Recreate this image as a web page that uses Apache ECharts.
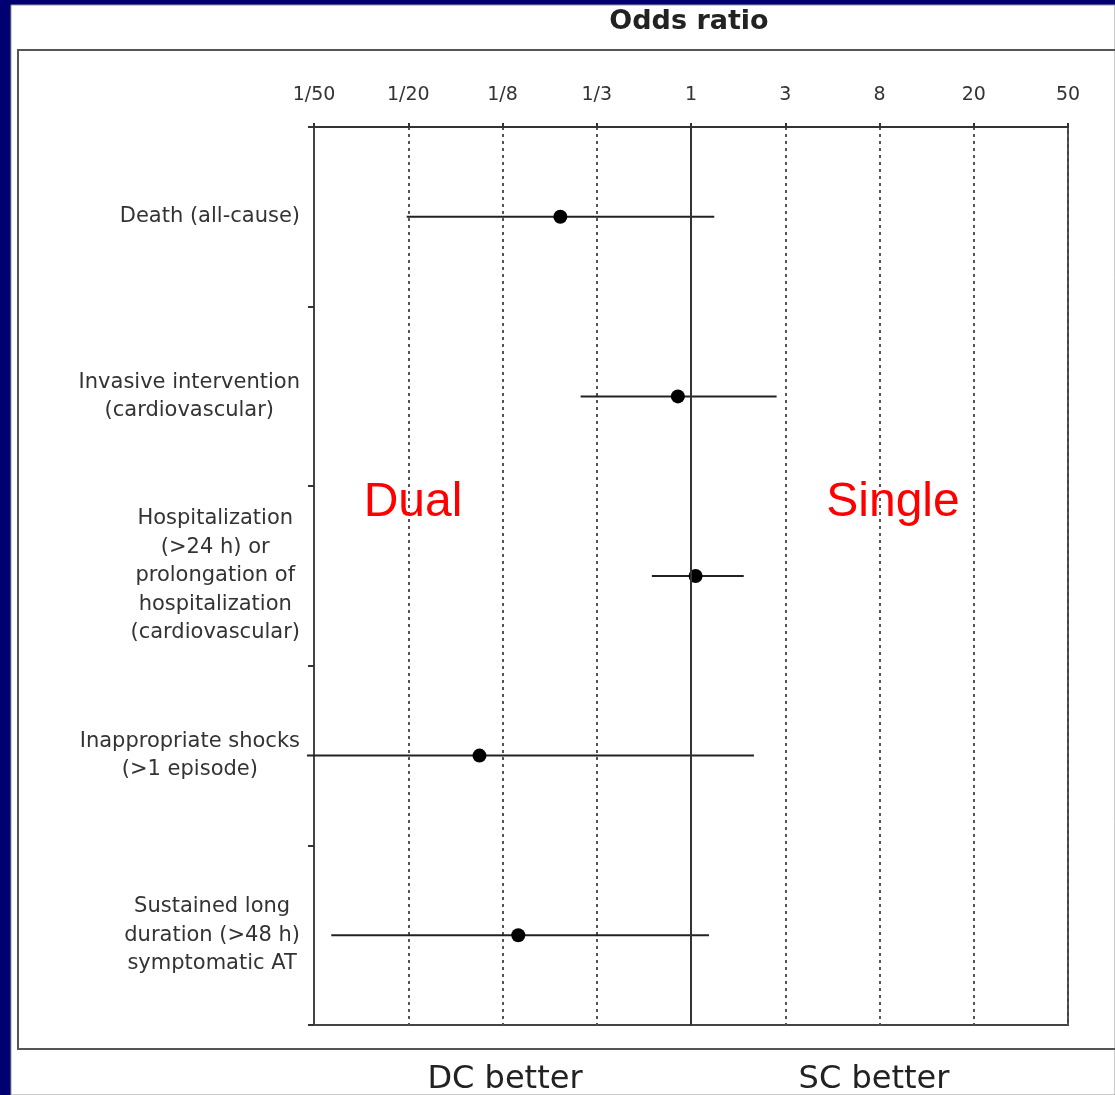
<!DOCTYPE html>
<html><head><meta charset="utf-8">
<script src="https://cdn.jsdelivr.net/npm/echarts@6/dist/echarts.min.js"></script>
<style>html,body{margin:0;padding:0;background:#000070;}#c{width:1115px;height:1095px;}</style>
</head><body><div id="c"></div><script>
const categories = [
  'Death (all-cause)',
  'Invasive intervention\n(cardiovascular)',
  'Hospitalization\n(>24 h) or\nprolongation of\nhospitalization\n(cardiovascular)',
  'Inappropriate shocks\n(>1 episode)',
  'Sustained long\nduration (>48 h)\nsymptomatic AT'
];
const oddsRatio = [0.25, 0.87, 1.05, 0.106, 0.16];
const ciLow = [0.049, 0.31, 0.66, 0.017, 0.022];
const ciHigh = [1.28, 2.48, 1.75, 1.95, 1.21];
const tickLabels = ['1/50', '1/20', '1/8', '1/3', '1', '3', '8', '20', '50'];

const FONT = 'DejaVu Sans';
const chart = echarts.init(document.getElementById('c'), null, {renderer: 'canvas'});
const ciData = categories.map((c, i) => [Math.log(ciLow[i]), Math.log(ciHigh[i]), i]);
const ptData = categories.map((c, i) => [Math.log(oddsRatio[i]), i]);

chart.setOption({
  backgroundColor: '#000070',
  animation: false,
  grid: {
    left: 314, top: 127, width: 754, height: 898,
    show: true, borderColor: '#444', borderWidth: 2, backgroundColor: 'transparent',
    containLabel: false, outerBoundsMode: 'none'
  },
  xAxis: {
    type: 'value', position: 'top', min: -4, max: 4, interval: 1,
    axisLine: {show: true, onZero: false, lineStyle: {color: '#333', width: 2}},
    axisTick: {show: true, length: 4, lineStyle: {color: '#333', width: 2}},
    axisLabel: {
      margin: 22, color: '#333', fontFamily: FONT, fontSize: 19,
      formatter: v => tickLabels[Math.round(v) + 4]
    },
    splitLine: {show: true, lineStyle: {color: '#555', width: 2, type: [3, 4]}}
  },
  yAxis: {
    type: 'category', data: categories, inverse: true, position: 'left',
    axisLine: {show: true, onZero: false, lineStyle: {color: '#444', width: 2}},
    axisTick: {show: true, length: 6, lineStyle: {color: '#333', width: 2}},
    splitLine: {show: false},
    axisLabel: {
      margin: 14, align: 'right',
      formatter: v => v.split('\n').map(s => '{c|' + s + '}').join('\n'),
      rich: {c: {align: 'center', fontFamily: FONT, fontSize: 21, color: '#333', lineHeight: 28.5}}
    }
  },
  series: [
    {
      type: 'custom', name: 'CI', data: ciData,
      encode: {x: [0, 1], y: 2},
      renderItem: (params, api) => {
        const lo = api.coord([api.value(0), api.value(2)]);
        const hi = api.coord([api.value(1), api.value(2)]);
        return {type: 'line', shape: {x1: lo[0], y1: lo[1], x2: hi[0], y2: hi[1]},
          style: {stroke: '#222', lineWidth: 2}};
      },
      z: 3
    },
    {
      type: 'scatter', name: 'OR', data: ptData,
      symbol: 'circle', symbolSize: 14,
      itemStyle: {color: '#000', opacity: 1},
      z: 4,
      markLine: {
        silent: true, symbol: 'none', label: {show: false},
        lineStyle: {color: '#333', width: 2, type: 'solid'},
        data: [{xAxis: 0}]
      }
    }
  ],
  graphic: [
    {type: 'rect', z: -100, shape: {x: 11, y: 5, width: 1104, height: 1090},
      style: {fill: '#fff', stroke: '#999', lineWidth: 1}},
    {type: 'polyline', z: -50, shape: {points: [[1115, 50], [18, 50], [18, 1049], [1115, 1049]]},
      style: {fill: null, stroke: '#555', lineWidth: 2}},
    {type: 'text', x: 689, y: 22, style: {text: 'Odds ratio', fill: '#222',
      font: 'bold 27px "DejaVu Sans"', textAlign: 'center', textVerticalAlign: 'middle'}},
    {type: 'text', x: 505, y: 1080, style: {text: 'DC better', fill: '#222',
      font: '32px "DejaVu Sans"', textAlign: 'center', textVerticalAlign: 'middle'}},
    {type: 'text', x: 874, y: 1080, style: {text: 'SC better', fill: '#222',
      font: '32px "DejaVu Sans"', textAlign: 'center', textVerticalAlign: 'middle'}},
    {type: 'text', x: 413, y: 503, z: 100, style: {text: 'Dual', fill: '#ff0000',
      font: '48px "Liberation Sans"', textAlign: 'center', textVerticalAlign: 'middle'}},
    {type: 'text', x: 893, y: 503, z: 100, style: {text: 'Single', fill: '#ff0000',
      font: '48px "Liberation Sans"', textAlign: 'center', textVerticalAlign: 'middle'}}
  ]
});
</script></body></html>
